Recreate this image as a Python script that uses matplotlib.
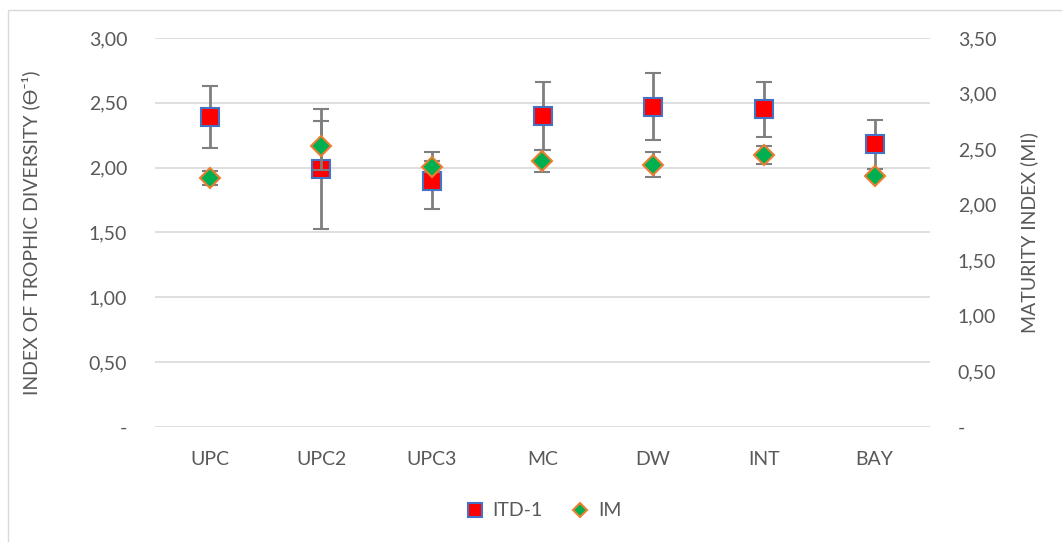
import matplotlib
matplotlib.use('Agg')
import matplotlib.pyplot as plt
from matplotlib.patches import Rectangle
from matplotlib.ticker import FuncFormatter

plt.rcParams['font.family'] = ['Lato', 'DejaVu Sans']

# données
sites = ['UPC', 'UPC2', 'UPC3', 'MC', 'DW', 'INT', 'BAY']
itd = [2.39, 1.99, 1.90, 2.40, 2.47, 2.45, 2.18]
itd_err = [0.24, 0.46, 0.22, 0.26, 0.26, 0.21, 0.19]
im = [2.24, 2.53, 2.34, 2.39, 2.36, 2.45, 2.26]
im_err = [0.06, 0.22, 0.05, 0.10, 0.11, 0.08, 0.02]

grey = '#595959'
x = list(range(len(sites)))

fig = plt.figure(figsize=(10.62, 5.42), dpi=100)
fig.patches.append(Rectangle((8 / 1062, -0.05), 1.1, 1 - 10 / 542 + 0.05,
                             transform=fig.transFigure, fill=False,
                             edgecolor='#d9d9d9', linewidth=1))
ax = fig.add_axes([155 / 1062, 1 - 427 / 542, 775 / 1062, 389 / 542])
ax2 = ax.twinx()

ax.errorbar(x, itd, yerr=itd_err, fmt='s', ms=13, mfc='#ff0000', mec='#4472c4',
            mew=1.5, ecolor='#7f7f7f', elinewidth=2, capsize=6, capthick=2,
            label='ITD-1', zorder=3)
ax2.errorbar(x, im, yerr=im_err, fmt='D', ms=10, mfc='#00b050', mec='#ed7d31',
             mew=1.5, ecolor='#7f7f7f', elinewidth=2, capsize=6, capthick=2,
             label='IM', zorder=3)

ax.set_xlim(-0.5, len(sites) - 0.5)
ax.set_ylim(0, 3.0)
ax2.set_ylim(0, 3.5)
ax.set_yticks([0, 0.5, 1.0, 1.5, 2.0, 2.5, 3.0])
ax2.set_yticks([0, 0.5, 1.0, 1.5, 2.0, 2.5, 3.0, 3.5])

fmt = FuncFormatter(lambda v, p: '-' if v == 0 else ('%.2f' % v).replace('.', ','))
ax.yaxis.set_major_formatter(fmt)
ax2.yaxis.set_major_formatter(fmt)

ax.set_xticks(x)
ax.set_xticklabels(sites)
ax.grid(axis='y', color='#d9d9d9', linewidth=1.2)
ax.set_axisbelow(True)
for a in (ax, ax2):
    for s in a.spines.values():
        s.set_visible(False)
    a.tick_params(length=0, labelsize=14, colors=grey)
ax.tick_params(axis='x', pad=17)
ax.tick_params(axis='y', pad=20)
ax2.tick_params(axis='y', pad=20)

ax.set_ylabel('INDEX OF TROPHIC DIVERSITY (ϴ⁻¹)', fontsize=14, color=grey)
ax2.set_ylabel('MATURITY INDEX (MI)', fontsize=14, color=grey)
ax.yaxis.set_label_coords(-0.148, 0.5)
ax2.yaxis.set_label_coords(1.117, 0.5)

h1, l1 = ax.get_legend_handles_labels()
h2, l2 = ax2.get_legend_handles_labels()
h1 = [h[0] for h in h1]
h2 = [h[0] for h in h2]
fig.legend(h1 + h2, l1 + l2, loc='center', bbox_to_anchor=(543 / 1062, 1 - 511 / 542),
           ncol=2, frameon=False, fontsize=14, labelcolor=grey, handlelength=1.0,
           handletextpad=0.4, columnspacing=1.45, markerscale=0.75)

fig.savefig('out.png', dpi=100)
